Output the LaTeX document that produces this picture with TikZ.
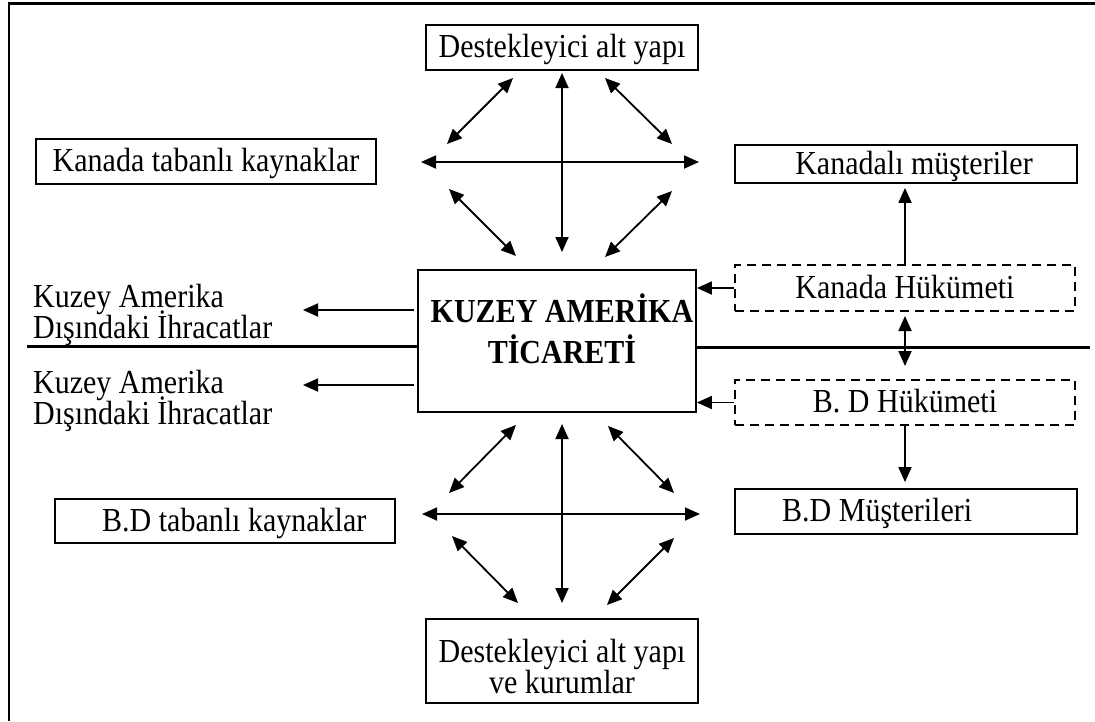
\documentclass[tikz,border=0pt]{standalone}
\usepackage{fontspec}
\usepackage{graphicx}
\setmainfont{Liberation Serif}
\usetikzlibrary{arrows.meta}
% the lettering is set slightly tall
\newcommand{\tallText}[1]{\scalebox{1}[1.12]{#1}}
\begin{document}
\begin{tikzpicture}[x=1pt,y=-1pt,
  txt/.style={font=\fontsize{30}{30}\selectfont, inner sep=0pt},
  boldtxt/.style={txt, font=\fontsize{30}{30}\selectfont\bfseries},
  box/.style={draw, line width=1.8pt, inner sep=0pt, text height=23pt, text depth=3pt,
    font=\fontsize{30}{30}\selectfont},
  gov/.style={box, line width=2pt, dash pattern=on 9pt off 6pt},
  tip/.tip={Triangle[length=15pt,width=13pt]},
  arr/.style={line width=1.8pt, -tip},
  darr/.style={line width=1.8pt, tip-tip},
  rule/.style={line width=3pt}
]
\useasboundingbox (0,0) rectangle (1095,721);

% outer frame (top and left edges)
\draw[line width=2.5pt] (9,721) -- (9,3.5) -- (1095,3.5);

% boxes
\node[box, minimum width=272pt, minimum height=45pt] (dtop) at (562,47.5) {\tallText{Destekleyici alt yapı}};
\node[box, minimum width=340pt, minimum height=45pt] (kt) at (206,161.5) {\tallText{Kanada tabanlı kaynaklar}};
\node[box, minimum width=342pt, minimum height=38pt] (km) at (906,164) {\hspace*{16pt}\tallText{Kanadalı müşteriler}};
\node[box, minimum width=278pt, minimum height=142pt] (ctr) at (557,341) {};
\node[gov, minimum width=340pt, minimum height=46pt] (kh) at (905,288) {\tallText{Kanada Hükümeti}};
\node[gov, minimum width=340pt, minimum height=45pt] (bdh) at (905,402.5) {\tallText{B. D Hükümeti}};
\node[box, minimum width=342pt, minimum height=45pt] (bdm) at (906,511.5) {};
\node[box, minimum width=340pt, minimum height=44pt] (bdt) at (225,521) {};
\node[box, minimum width=272pt, minimum height=84pt] (dbot) at (562,661) {};

% texts set by line
\node[boldtxt, anchor=base] (ct1) at (562,322) {\tallText{KUZEY AMERİKA}};
\node[boldtxt, anchor=base] (ct2) at (562,363) {\tallText{TİCARETİ}};
\node[txt, anchor=base west] (bdmt) at (782,521) {\tallText{B.D Müşterileri}};
\node[txt, anchor=base west] (bdtt) at (102,531) {\tallText{B.D tabanlı kaynaklar}};
\node[txt, anchor=base] (db1) at (562,662) {\tallText{Destekleyici alt yapı}};
\node[txt, anchor=base] (db2) at (562,693) {\tallText{ve kurumlar}};
\node[txt, anchor=base west] (k1a) at (33,307) {\tallText{Kuzey Amerika}};
\node[txt, anchor=base west] (k1b) at (33,338) {\tallText{Dışındaki İhracatlar}};
\node[txt, anchor=base west] (k2a) at (33,393) {\tallText{Kuzey Amerika}};
\node[txt, anchor=base west] (k2b) at (33,424) {\tallText{Dışındaki İhracatlar}};

% arrow end points around the upper hub
\coordinate (vt1) at (562,73);  \coordinate (vt2) at (562,252);
\coordinate (ht1) at (421,162); \coordinate (ht2) at (699,162);
\coordinate (d1a) at (513,78);  \coordinate (d1b) at (447,144);
\coordinate (d2a) at (605,78);  \coordinate (d2b) at (672,144);
\coordinate (d3a) at (449,189); \coordinate (d3b) at (516,256);
\coordinate (d4a) at (672,191); \coordinate (d4b) at (605,257);
% arrow end points around the lower hub
\coordinate (vb1) at (562,424); \coordinate (vb2) at (562,603);
\coordinate (hb1) at (422,514); \coordinate (hb2) at (700,514);
\coordinate (e1a) at (516,425); \coordinate (e1b) at (449,493);
\coordinate (e2a) at (608,426); \coordinate (e2b) at (674,493);
\coordinate (e3a) at (452,536); \coordinate (e3b) at (518,603);
\coordinate (e4a) at (674,538); \coordinate (e4b) at (607,605);

\draw[darr] (vt1) -- (vt2);
\draw[darr] (ht1) -- (ht2);
\draw[darr] (d1a) -- (d1b);
\draw[darr] (d2a) -- (d2b);
\draw[darr] (d3a) -- (d3b);
\draw[darr] (d4a) -- (d4b);

\draw[darr] (vb1) -- (vb2);
\draw[darr] (hb1) -- (hb2);
\draw[darr] (e1a) -- (e1b);
\draw[darr] (e2a) -- (e2b);
\draw[darr] (e3a) -- (e3b);
\draw[darr] (e4a) -- (e4b);

% exports outside North America
\coordinate (ex1) at (303,310);
\coordinate (ex2) at (303,385);
\draw[arr, shorten <=3pt] (ctr.west |- ex1) -- (ex1);
\draw[arr, shorten <=3pt] (ctr.west |- ex2) -- (ex2);

% border line between the two countries
\coordinate (rl) at (27,346);
\coordinate (rr) at (1090,347);
\draw[rule] (rl) -- (rl -| ctr.west);
\draw[rule] (ctr.east |- rr) -- (rr);

% government links
\draw[arr] (kh.west) -- (kh.west -| ctr.east);
\draw[arr] (bdh.west) -- (bdh.west -| ctr.east);
\draw[arr, shorten >=4pt] (kh.north) -- (kh.north |- km.south);
\draw[arr, shorten >=6pt] (bdh.south) -- (bdh.south |- bdm.north);
\draw[darr, shorten <=4pt, shorten >=13pt] (kh.south) -- (bdh.north);
\end{tikzpicture}
\end{document}
